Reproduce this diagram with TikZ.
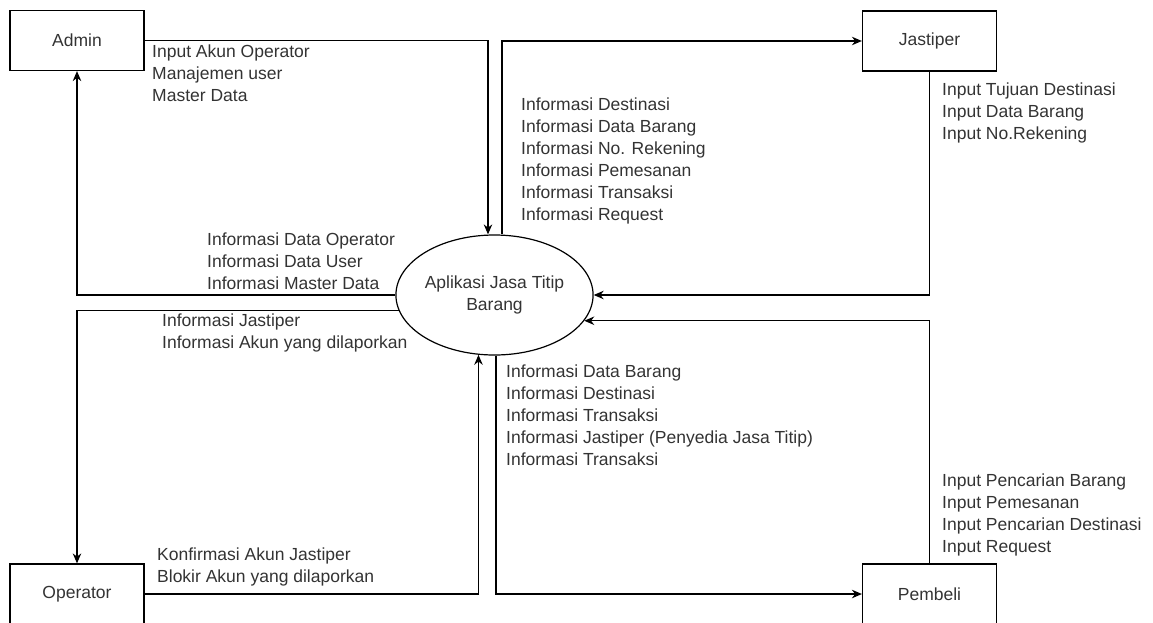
\documentclass[tikz,border=0pt]{standalone}
\usepackage{fontspec}
\setmainfont{Liberation Sans}
\usetikzlibrary{shapes, arrows.meta}
\tikzstyle{entity}=[draw, rectangle, line width=1.2pt, minimum width=134pt, minimum height=60pt, inner sep=0pt, text=black!80]
\tikzstyle{process}=[draw, ellipse, line width=1.2pt, minimum width=181pt, minimum height=120pt, inner sep=0pt, align=center, text=black!80]
\tikzstyle{flow}=[-{Stealth[length=10pt,width=8.5pt]}, line width=1.2pt]
\tikzstyle{info}=[anchor=north west, inner sep=0pt, align=left, text=black!80]

\begin{document}
\begin{tikzpicture}[x=1pt, y=-1pt, font=\fontsize{17.5}{22}\selectfont]
	\useasboundingbox (0,0) rectangle (1153,622);
	\node	[entity]	(admin)	at (77,40.5)	{Admin};
	\node	[entity]	(jastiper)	at (929.5,41)	{Jastiper};
	\node	[entity]	(operator)	at (77,594)	{Operator};
	\node	[entity]	(pembeli)	at (929.5,594)	{Pembeli};
	\node	[process]	(app)	at (494.5,295)	{Aplikasi Jasa Titip\\Barang};

	\draw[flow] (admin.east) -| ([xshift=-6.5pt]app.north);
	\draw[flow] ([xshift=7.5pt]app.north) |- (jastiper.west);
	\draw[flow] (jastiper.south) |- (app.east);
	\draw[flow] (app.west) -| (admin.south);
	\draw[flow] (app.189) -| (operator.north);
	\draw[flow] (operator.east) -| (app.255);
	\draw[flow] ([xshift=1.5pt]app.south) |- (pembeli.west);
	\draw[flow] (pembeli.north) |- (app.344);

	% labels of the flows
	\node	[info]	(inAdmin)	at (152,45)	{Input Akun Operator\\Manajemen user\\Master Data};
	\node	[info]	(outJastiper)	at (521,98)	{Informasi Destinasi\\Informasi Data Barang\\Informasi No. Rekening\\Informasi Pemesanan\\Informasi Transaksi\\Informasi Request};
	\node	[info]	(inJastiper)	at (942,83)	{Input Tujuan Destinasi\\Input Data Barang\\Input No.Rekening};
	\node	[info]	(outAdmin)	at (207,233)	{Informasi Data Operator\\Informasi Data User\\Informasi Master Data};
	\node	[info]	(outOperator)	at (162,314)	{Informasi Jastiper\\Informasi Akun yang dilaporkan};
	\node	[info]	(outPembeli)	at (506,365)	{Informasi Data Barang\\Informasi Destinasi\\Informasi Transaksi\\Informasi Jastiper (Penyedia Jasa Titip)\\Informasi Transaksi};
	\node	[info]	(inPembeli)	at (942,474)	{Input Pencarian Barang\\Input Pemesanan\\Input Pencarian Destinasi\\Input Request};
	\node	[info]	(inOperator)	at (157,548)	{Konfirmasi Akun Jastiper\\Blokir Akun yang dilaporkan};
\end{tikzpicture}
\end{document}
